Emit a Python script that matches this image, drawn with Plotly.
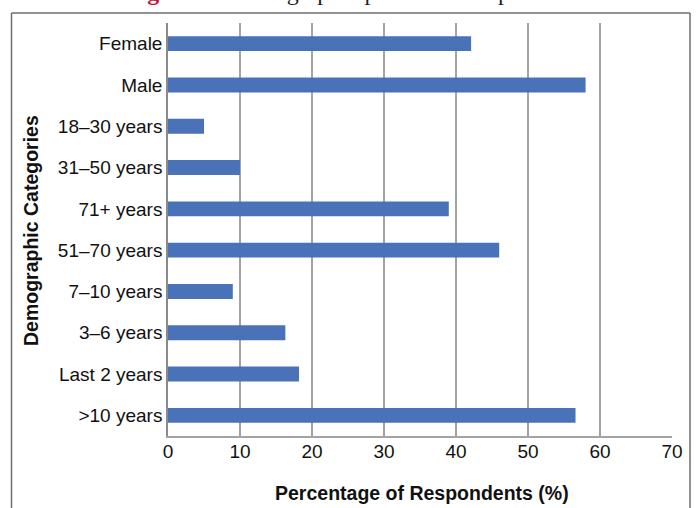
import plotly.graph_objects as go

# Respondent demographics, listed top to bottom as drawn
categories = [
    "Female", "Male", "18–30 years", "31–50 years", "71+ years",
    "51–70 years", "7–10 years", "3–6 years", "Last 2 years", ">10 years",
]
percentages = [42.1, 58.0, 5.0, 10.0, 39.0, 46.0, 9.0, 16.3, 18.2, 56.6]

x_ticks = [0, 10, 20, 30, 40, 50, 60, 70]

W, H = 696, 508
L, R, T, B = 168, 24, 23, 72          # plot-area margins in px
pw, ph = W - L - R, H - T - B


def px_x(p):
    return (p - L) / pw


def px_y(p):
    return (H - B - p) / ph


BAR_BLUE = "#4a72b8"
GRID = "#a3a3a3"
FRAME = "#6e6e6e"

fig = go.Figure(
    go.Bar(
        x=percentages,
        y=categories,
        orientation="h",
        marker=dict(color=BAR_BLUE, line=dict(width=0)),
        width=0.36,
        hoverinfo="x+y",
    )
)

fig.update_layout(
    width=W,
    height=H,
    margin=dict(l=L, r=R, t=T, b=B, pad=0),
    paper_bgcolor="white",
    plot_bgcolor="white",
    showlegend=False,
    font=dict(family="Liberation Sans, Arial, sans-serif", color="#111111", size=19),
)

fig.update_xaxes(
    range=[0, 70],
    tickvals=x_ticks,
    ticktext=[str(v) for v in x_ticks],
    showgrid=True,
    gridcolor=GRID,
    gridwidth=1.5,
    zeroline=False,
    showline=True,
    linecolor=GRID,
    linewidth=1.5,
    ticks="",
    ticklabelstandoff=-3,
    tickfont=dict(size=19),
    automargin=False,
    fixedrange=True,
)

fig.update_yaxes(
    categoryorder="array",
    categoryarray=categories,
    autorange="reversed",
    showgrid=False,
    showline=True,
    linecolor="#8a8a8a",
    linewidth=1.5,
    ticks="",
    ticklabelstandoff=0,
    tickfont=dict(size=19),
    automargin=False,
    fixedrange=True,
)

# Axis titles
fig.add_annotation(
    xref="paper", yref="paper", x=px_x(421.5), y=px_y(493),
    xanchor="center", yanchor="middle", showarrow=False,
    text="<b>Percentage of Respondents (%)</b>",
    font=dict(size=19.5),
)
fig.add_annotation(
    xref="paper", yref="paper", x=px_x(31), y=px_y(231),
    xanchor="center", yanchor="middle", showarrow=False, textangle=-90,
    text="<b>Demographic Categories</b>",
    font=dict(size=19.5),
)

# Outer frame around the figure panel (open at the bottom)
frame_x0, frame_x1, frame_top = px_x(11.5), px_x(690), px_y(13)
frame_bottom = px_y(H + 20)
for x0, y0, x1, y1 in [
    (frame_x0, frame_top, frame_x1, frame_top),
    (frame_x0, frame_top, frame_x0, frame_bottom),
    (frame_x1, frame_top, frame_x1, frame_bottom),
]:
    fig.add_shape(
        type="line", xref="paper", yref="paper",
        x0=x0, y0=y0, x1=x1, y1=y1,
        line=dict(color=FRAME, width=1.5),
    )

# Figure caption above the panel
cap_font = "Liberation Serif, Times New Roman, serif"
fig.add_annotation(
    xref="paper", yref="paper", x=px_x(124), y=px_y(7),
    xanchor="left", yanchor="bottom", showarrow=False,
    text="<b>Figure 2</b>",
    font=dict(family=cap_font, size=24, color="#c8102e"),
)
fig.add_annotation(
    xref="paper", yref="paper", x=px_x(226.3), y=px_y(7),
    xanchor="left", yanchor="bottom", showarrow=False,
    text="Demographic profiles of respondents",
    font=dict(family=cap_font, size=24, color="#222222"),
)

fig.write_html("out.html")
